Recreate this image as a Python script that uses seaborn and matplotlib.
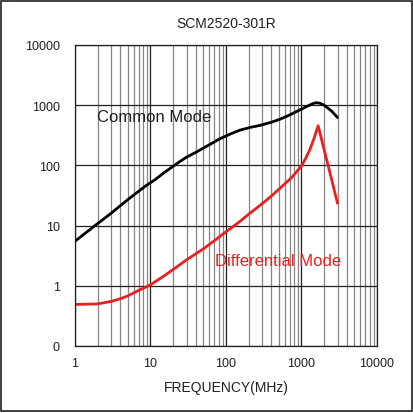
import matplotlib
matplotlib.use("Agg")
import matplotlib.pyplot as plt
import seaborn as sns
import numpy as np
import pandas as pd
from matplotlib.patches import Rectangle

sns.set_style("white")
plt.rcParams['font.family'] = ['Liberation Sans', 'DejaVu Sans']

title = "SCM2520-301R"
xlabel = "FREQUENCY(MHz)"
x_ticks = [1, 10, 100, 1000, 10000]
x_ticklabels = ["1", "10", "100", "1000", "10000"]
y_ticks = [0.1, 1, 10, 100, 1000, 10000]
y_ticklabels = ["0", "1", "10", "100", "1000", "10000"]

cm_freq = [1, 1.84, 3, 5, 8.5, 11.5, 15, 20, 25, 30, 41, 60, 83, 115, 153, 210, 282, 400, 519,
           700, 870, 1050, 1230, 1400, 1550, 1750, 2000, 2500, 3000]
cm_imp = [5.5, 10, 16, 27, 45, 58, 75, 97, 118, 137, 168, 220, 277, 334, 385, 428, 462, 522,
          585, 690, 790, 888, 980, 1055, 1100, 1080, 1000, 800, 625]

dm_freq = [1, 2, 3, 4, 5, 7, 10, 15, 20, 30, 50, 70, 100, 150, 200, 300, 400, 575, 750,
           1000, 1150, 1290, 1450, 1660, 2000, 2500, 3000]
dm_imp = [0.49, 0.50, 0.55, 0.61, 0.68, 0.84, 1.04, 1.45, 1.87, 2.7, 4.1, 5.6, 7.9, 11.5, 15.5,
          23, 31, 47, 64, 98, 135, 183, 270, 455, 180, 59, 23.5]

cm = pd.DataFrame({"f": cm_freq, "z": cm_imp})
dm = pd.DataFrame({"f": dm_freq, "z": dm_imp})

fig = plt.figure(figsize=(4.14, 4.14), dpi=100)
ax = fig.add_axes([75/414, 67/414, 302/414, 301/414])

ax.set_xscale("log")
ax.set_yscale("log")
ax.set_xlim(1, 10000)
ax.set_ylim(0.1, 10000)

major_c = "#231f20"
minor_c = "#8a8585"
ax.set_xticks(x_ticks)
ax.set_xticklabels(x_ticklabels)
ax.set_yticks(y_ticks)
ax.set_yticklabels(y_ticklabels)
ax.xaxis.set_minor_locator(matplotlib.ticker.LogLocator(base=10, subs=np.arange(2, 10)))
ax.yaxis.set_minor_locator(matplotlib.ticker.NullLocator())
ax.xaxis.set_minor_formatter(matplotlib.ticker.NullFormatter())
ax.grid(True, which="major", axis="both", color=major_c, lw=0.9)
ax.grid(True, which="minor", axis="x", color=minor_c, lw=0.9)
ax.set_axisbelow(True)
ax.tick_params(axis="both", which="both", length=0, labelsize=9, labelcolor=major_c)
ax.tick_params(axis="y", pad=11)
ax.tick_params(axis="x", pad=8)
for s in ax.spines.values():
    s.set_color(major_c)
    s.set_linewidth(0.9)

sns.lineplot(data=cm, x="f", y="z", ax=ax, color="black", lw=2.0, sort=False)
sns.lineplot(data=dm, x="f", y="z", ax=ax, color="#e8201f", lw=2.0, sort=False)

ax.text(1.95, 660, "Common Mode", fontsize=12, color=major_c, va="center", ha="left")
ax.text(72, 2.6, "Differential Mode", fontsize=12, color="#e8201f", va="center", ha="left")

ax.set_title(title, fontsize=10, color=major_c, pad=13)
ax.set_xlabel(xlabel, fontsize=10, color=major_c, labelpad=8)
ax.set_ylabel("")

fig.patches.append(Rectangle((1.5/414, 2/414), 410.5/414, 410/414, transform=fig.transFigure,
                             fill=False, edgecolor=major_c, lw=1.2))

fig.savefig("out.png", dpi=100, facecolor="white")
